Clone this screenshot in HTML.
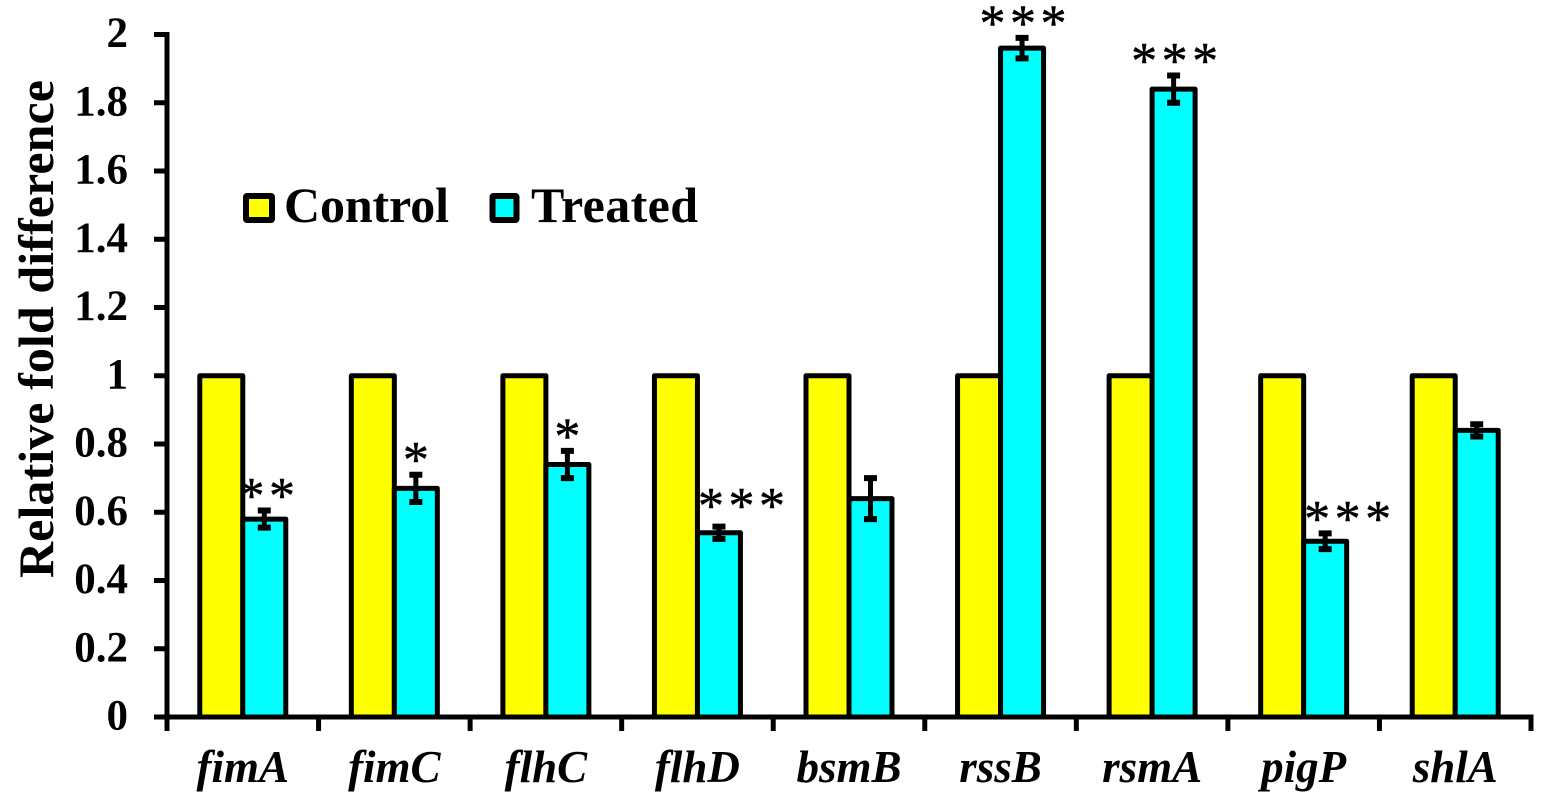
<!DOCTYPE html>
<html lang="en">
<head>
<meta charset="utf-8">
<title>Relative fold difference chart</title>
<style>
html,body{margin:0;padding:0;background:#fff;}
svg{display:block;}
text{font-family:"Liberation Serif",serif;fill:#000;}
</style>
</head>
<body>
<svg id="chart" xmlns="http://www.w3.org/2000/svg" width="1547" height="800" viewBox="0 0 1547 800"></svg>
<script>
const categories = ['fimA','fimC','flhC','flhD','bsmB','rssB','rsmA','pigP','shlA'];
const controlValues = [1,1,1,1,1,1,1,1,1];
const treatedValues = [0.58,0.67,0.74,0.54,0.64,1.96,1.84,0.515,0.84];
const treatedErrors = [0.025,0.04,0.04,0.018,0.06,0.03,0.04,0.023,0.018];
const significance = ['**','*','*','***','','***','***','***',''];
const yTicks = [0,0.2,0.4,0.6,0.8,1,1.2,1.4,1.6,1.8,2];
const yTitle = 'Relative fold difference';

const svg = document.getElementById('chart');
const NS = 'http://www.w3.org/2000/svg';
const plotLeft = 167, plotRight = 1531, plotTop = 34.5, plotBottom = 717;
const yMax = 2;
const bandWidth = (plotRight - plotLeft) / categories.length;
const barWidth = 43;
const starGap = 21;
const starExtraGap = {flhD: 6};

function yScale(v){ return plotBottom - (v / yMax) * (plotBottom - plotTop); }
function xBand(i){ return plotLeft + i * bandWidth; }
function xCenter(i){ return xBand(i) + bandWidth / 2; }

function make(tag, attrs, text){
  const el = document.createElementNS(NS, tag);
  for (const k in attrs) el.setAttribute(k, attrs[k]);
  if (text !== undefined) el.textContent = text;
  svg.appendChild(el);
  return el;
}
function drawBar(x, value, fill){
  return make('rect', {x:x, y:yScale(value), width:barWidth, height:plotBottom-yScale(value), fill:fill, stroke:'#000', 'stroke-width':5, 'stroke-linejoin':'round'});
}

categories.forEach(function(name, i){
  const c = xCenter(i);
  const ctrl = drawBar(c - barWidth, controlValues[i], '#ffff00');
  
  
  const trt = drawBar(c, treatedValues[i], '#00ffff');
  
  
});

categories.forEach(function(name, i){
  const c = xCenter(i);
  const ex = c + barWidth / 2;
  const hi = yScale(treatedValues[i] + treatedErrors[i]);
  const lo = yScale(treatedValues[i] - treatedErrors[i]);
  const stem = make('line', {x1:ex, y1:hi, x2:ex, y2:lo, stroke:'#000', 'stroke-width':5});
  
  
  const caps = make('path', {d:'M'+(ex-6.5)+' '+hi+'H'+(ex+6.5)+'M'+(ex-6.5)+' '+lo+'H'+(ex+6.5), fill:'none', stroke:'#000', 'stroke-width':6});
  
  

  if (significance[i]) {
    const n = significance[i].length;
    const starCentreY = hi - starGap - (starExtraGap[name] || 0);
    /* labels sitting beside the control bar are pushed right so they clear it */
    const besideControl = starCentreY > yScale(controlValues[i]);
    const cx = besideControl ? Math.max(ex, c + 20 * n - 16) : ex + 1;
    const star = make('text', {x:cx + 2.25, y:starCentreY + 23.5, 'text-anchor':'middle', 'font-size':52, 'letter-spacing':4.5, stroke:'#000', 'stroke-width':0.5}, significance[i]);
    
    
  }

  const lab = make('text', {x:c, y:782, 'text-anchor':'middle', 'font-size':45, 'font-weight':'bold', 'font-style':'italic'}, name);
  
  
});

const yAxis = make('line', {x1:plotLeft, y1:plotTop-2.5, x2:plotLeft, y2:plotBottom+2.5, stroke:'#000', 'stroke-width':5});


const xAxis = make('line', {x1:plotLeft-13, y1:plotBottom, x2:plotRight+2.5, y2:plotBottom, stroke:'#000', 'stroke-width':5});



yTicks.forEach(function(t){
  const y = yScale(t);
  const tick = make('line', {x1:plotLeft-13, y1:y, x2:plotLeft, y2:y, stroke:'#000', 'stroke-width':5});
  
  
  const lab = make('text', {x:128, y:y + 12.5, 'text-anchor':'end', 'font-size':43, 'font-weight':'bold'}, String(t));
  
  
});

for (let i = 0; i <= categories.length; i++) {
  const tick = make('line', {x1:xBand(i), y1:plotBottom, x2:xBand(i), y2:plotBottom+14, stroke:'#000', 'stroke-width':5});
  
  
}

const title = make('text', {transform:'translate(53,578) rotate(-90)', 'font-size':50, 'font-weight':'bold', textLength:498, lengthAdjust:'spacing'}, yTitle);



const swatchC = make('rect', {x:246, y:196, width:26, height:24, rx:1, fill:'#ffff00', stroke:'#000', 'stroke-width':6});


const textC = make('text', {x:284, y:222, 'font-size':50, 'font-weight':'bold', textLength:165, lengthAdjust:'spacing'}, 'Control');


const swatchT = make('rect', {x:492.5, y:196, width:24, height:24, rx:1, fill:'#00ffff', stroke:'#000', 'stroke-width':6});


const textT = make('text', {x:531, y:222, 'font-size':50, 'font-weight':'bold', textLength:167, lengthAdjust:'spacing'}, 'Treated');


</script>
</body>
</html>
